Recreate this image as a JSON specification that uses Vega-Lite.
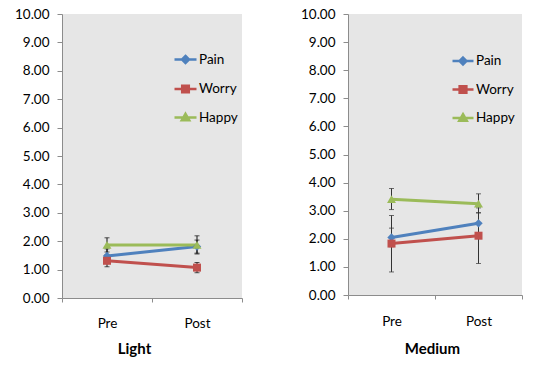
{
  "$schema": "https://vega.github.io/schema/vega-lite/v6.json",
  "background": "white",
  "padding": {"left": 14, "top": 7, "right": 0, "bottom": 0},
  "datasets": {
    "rows": [
      {"panel": "Light", "time": "Pre", "series": "Pain", "value": 1.48, "lo": 1.23, "hi": 1.73},
      {"panel": "Light", "time": "Post", "series": "Pain", "value": 1.81, "lo": 1.58, "hi": 2.04},
      {"panel": "Light", "time": "Pre", "series": "Worry", "value": 1.31, "lo": 1.10, "hi": 1.52},
      {"panel": "Light", "time": "Post", "series": "Worry", "value": 1.07, "lo": 0.89, "hi": 1.25},
      {"panel": "Light", "time": "Pre", "series": "Happy", "value": 1.87, "lo": 1.62, "hi": 2.12},
      {"panel": "Light", "time": "Post", "series": "Happy", "value": 1.87, "lo": 1.55, "hi": 2.19},
      {"panel": "Medium", "time": "Pre", "series": "Pain", "value": 2.05, "lo": 1.72, "hi": 2.38},
      {"panel": "Medium", "time": "Post", "series": "Pain", "value": 2.55, "lo": 2.17, "hi": 2.93},
      {"panel": "Medium", "time": "Pre", "series": "Worry", "value": 1.83, "lo": 0.82, "hi": 2.83},
      {"panel": "Medium", "time": "Post", "series": "Worry", "value": 2.11, "lo": 1.12, "hi": 3.10},
      {"panel": "Medium", "time": "Pre", "series": "Happy", "value": 3.41, "lo": 3.04, "hi": 3.79},
      {"panel": "Medium", "time": "Post", "series": "Happy", "value": 3.25, "lo": 2.92, "hi": 3.60}
    ]
  },
  "config": {
    "font": "Lato",
    "view": {"fill": "#e6e6e6", "stroke": null},
    "axis": {
      "labelFont": "Lato", "labelFontSize": 13.5, "labelColor": "#000000",
      "domainColor": "#8c8c8c", "tickColor": "#8c8c8c", "grid": false,
      "titleFont": "Lato", "titleColor": "#000000", "labelOverlap": false
    },
    "axisY": {"values": [0,1,2,3,4,5,6,7,8,9,10], "format": ".2f", "tickSize": 5, "labelPadding": 8, "title": null},
    "legend": {"labelFont": "Lato", "labelFontSize": 13.5, "labelColor": "#000000"}
  },
  "spacing": 57,
  "hconcat": [
    {
      "width": 180, "height": 284,
      "data": {"name": "rows"},
      "transform": [{"filter": "datum.panel === 'Light'"}],
      "encoding": {
        "x": {"field": "time", "type": "nominal", "sort": ["Pre", "Post"],
              "scale": {"type": "band", "paddingInner": 0, "paddingOuter": 0},
              "axis": {"title": "Light", "labelAngle": 0, "tickBand": "extent", "tickSize": 4, "labelPadding": 14,
                       "titleFontSize": 15, "titleFontWeight": "bold", "titlePadding": 12, "titleX": 72}},
        "y": {"field": "value", "type": "quantitative", "scale": {"domain": [0, 10]},
              "axis": {"title": null, "values": [0,1,2,3,4,5,6,7,8,9,10], "format": ".2f"}},
        "color": {"field": "series", "type": "nominal",
                  "scale": {"domain": ["Pain", "Worry", "Happy"], "range": ["#4F81BD", "#C0504D", "#9BBB59"]},
                  "legend": {"title": null, "orient": "none", "legendX": 111, "legendY": 33,
                             "symbolSize": 484, "rowPadding": 7.5, "labelOffset": 1,
                             "encode": {"symbols": {"update": {
                               "shape": {"signal": "datum.value === 'Pain' ? 'M-1,0H1M0,-0.32L0.32,0L0,0.32L-0.32,0Z' : datum.value === 'Worry' ? 'M-1,0H1M-0.3,-0.3H0.3V0.3H-0.3Z' : 'M-1,0H1M0,-0.34L0.34,0.26H-0.34Z'"},
                               "stroke": {"signal": "datum.value === 'Pain' ? '#4F81BD' : datum.value === 'Worry' ? '#C0504D' : '#9BBB59'"},
                               "fill": {"signal": "datum.value === 'Pain' ? '#4F81BD' : datum.value === 'Worry' ? '#C0504D' : '#9BBB59'"},
                               "strokeWidth": {"value": 2.5},
                               "opacity": {"value": 1}
                             }}}}}
      },
      "layer": [
        {
          "mark": {"type": "errorbar", "ticks": {"size": 5, "color": "#111111"}, "rule": {"color": "#111111", "strokeWidth": 1}},
          "encoding": {
            "y": {"field": "lo", "type": "quantitative", "scale": {"domain": [0, 10]},
                  "axis": {"title": null, "values": [0,1,2,3,4,5,6,7,8,9,10], "format": ".2f"}},
            "y2": {"field": "hi"},
            "detail": {"field": "series"},
            "color": {"value": "#111111"}
          }
        },
        {
          "mark": {"type": "line", "strokeWidth": 3},
          "encoding": {"order": {"field": "time", "sort": "descending"}}
        },
        {
          "transform": [{"filter": "datum.series === 'Pain'"}],
          "mark": {"type": "point", "filled": true, "opacity": 1, "shape": "diamond", "size": 70}
        },
        {
          "transform": [{"filter": "datum.series === 'Worry'"}],
          "mark": {"type": "point", "filled": true, "opacity": 1, "shape": "square", "size": 64}
        },
        {
          "transform": [{"filter": "datum.series === 'Happy'"}],
          "mark": {"type": "point", "filled": true, "opacity": 1, "shape": "triangle-up", "size": 80}
        }
      ]
    },
    {
      "width": 174, "height": 281,
      "data": {"name": "rows"},
      "transform": [{"filter": "datum.panel === 'Medium'"}],
      "encoding": {
        "x": {"field": "time", "type": "nominal", "sort": ["Pre", "Post"],
              "scale": {"type": "band", "paddingInner": 0, "paddingOuter": 0},
              "axis": {"title": "Medium", "labelAngle": 0, "tickBand": "extent", "tickSize": 4, "labelPadding": 15,
                       "titleFontSize": 15, "titleFontWeight": "bold", "titlePadding": 14, "titleX": 84}},
        "y": {"field": "value", "type": "quantitative", "scale": {"domain": [0, 10]},
              "axis": {"title": null, "values": [0,1,2,3,4,5,6,7,8,9,10], "format": ".2f"}},
        "color": {"field": "series", "type": "nominal",
                  "scale": {"domain": ["Pain", "Worry", "Happy"], "range": ["#4F81BD", "#C0504D", "#9BBB59"]},
                  "legend": {"title": null, "orient": "none", "legendX": 103, "legendY": 35,
                             "symbolSize": 441, "rowPadding": 7.5, "labelOffset": 1,
                             "encode": {"symbols": {"update": {
                               "shape": {"signal": "datum.value === 'Pain' ? 'M-1,0H1M0,-0.33L0.33,0L0,0.33L-0.33,0Z' : datum.value === 'Worry' ? 'M-1,0H1M-0.32,-0.32H0.32V0.32H-0.32Z' : 'M-1,0H1M0,-0.36L0.36,0.27H-0.36Z'"},
                               "stroke": {"signal": "datum.value === 'Pain' ? '#4F81BD' : datum.value === 'Worry' ? '#C0504D' : '#9BBB59'"},
                               "fill": {"signal": "datum.value === 'Pain' ? '#4F81BD' : datum.value === 'Worry' ? '#C0504D' : '#9BBB59'"},
                               "strokeWidth": {"value": 2.5},
                               "opacity": {"value": 1}
                             }}}}}
      },
      "layer": [
        {
          "mark": {"type": "errorbar", "ticks": {"size": 5, "color": "#222222"}, "rule": {"color": "#333333", "strokeWidth": 1}},
          "encoding": {
            "y": {"field": "lo", "type": "quantitative", "scale": {"domain": [0, 10]},
                  "axis": {"title": null, "values": [0,1,2,3,4,5,6,7,8,9,10], "format": ".2f"}},
            "y2": {"field": "hi"},
            "detail": {"field": "series"},
            "color": {"value": "#333333"}
          }
        },
        {
          "mark": {"type": "line", "strokeWidth": 3},
          "encoding": {"order": {"field": "time", "sort": "descending"}}
        },
        {
          "transform": [{"filter": "datum.series === 'Pain'"}],
          "mark": {"type": "point", "filled": true, "opacity": 1, "shape": "diamond", "size": 70}
        },
        {
          "transform": [{"filter": "datum.series === 'Worry'"}],
          "mark": {"type": "point", "filled": true, "opacity": 1, "shape": "square", "size": 64}
        },
        {
          "transform": [{"filter": "datum.series === 'Happy'"}],
          "mark": {"type": "point", "filled": true, "opacity": 1, "shape": "triangle-up", "size": 80}
        }
      ]
    }
  ],
  "resolve": {"scale": {"color": "independent", "x": "independent", "y": "independent"},
              "legend": {"color": "independent"}}
}
